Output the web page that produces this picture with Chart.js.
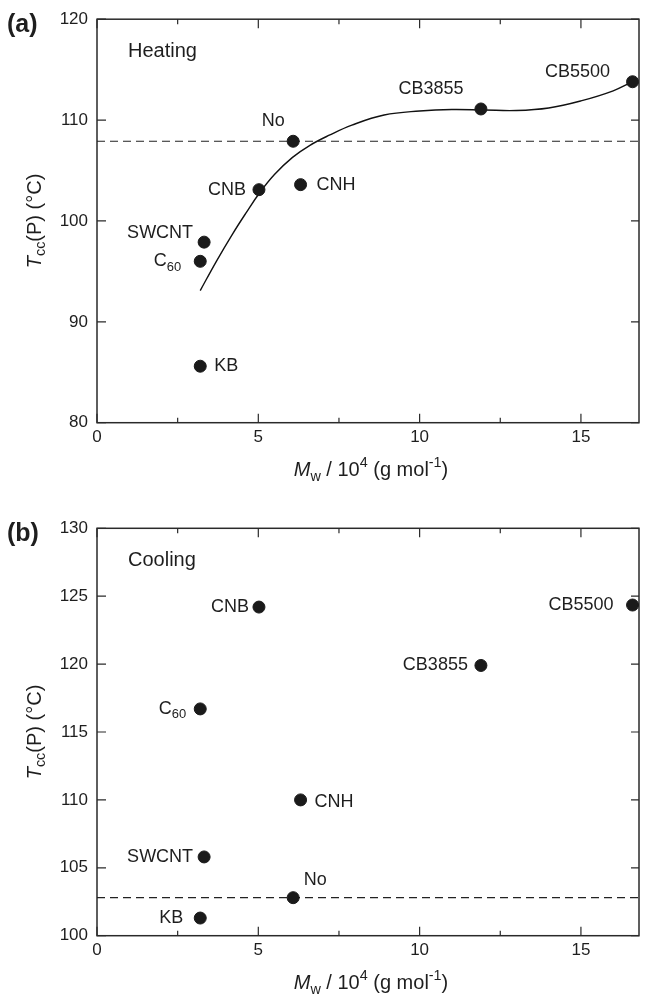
<!DOCTYPE html>
<html>
<head>
<meta charset="utf-8">
<script src="https://cdn.jsdelivr.net/npm/chart.js@4.4.0/dist/chart.umd.min.js"></script>
<style>
  html, body { margin: 0; padding: 0; background: #fff; }
  .panel { position: relative; width: 646px; }
  canvas { display: block; }
</style>
</head>
<body>
<div class="panel" style="height:500px"><canvas id="heating" width="646" height="500"></canvas></div>
<div class="panel" style="height:501px"><canvas id="cooling" width="646" height="501"></canvas></div>
<script>
// samples ("_" marks a subscript)
const sampleNames = ["No", "CNB", "CNH", "CB3855", "CB5500", "SWCNT", "C_60", "KB"];
const mwValues = [6.08, 5.02, 6.31, 11.9, 16.6, 3.32, 3.2, 3.2];
const heatingTcc = [107.9, 103.1, 103.6, 111.1, 113.8, 97.9, 96.0, 85.6];
const coolingTcc = [102.8, 124.2, 110.0, 119.9, 124.35, 105.8, 116.7, 101.3];

// fitted curve through the heating data
const fitMw = [3.2, 3.7, 4.2, 4.62, 5.02, 5.5, 6.06, 6.6, 7.2, 7.9, 8.9, 10.0, 11.0, 12.0, 13.0, 14.0, 15.0, 16.0, 16.6];
const fitHeating = [93.1, 96.0, 98.7, 100.8, 102.7, 104.6, 106.3, 107.5, 108.5, 109.5, 110.5, 110.9, 111.05, 111.0, 110.95, 111.2, 111.9, 112.9, 113.8];

const xTicks = [0, 5, 10, 15];
const xMinorTicks = [2.5, 7.5, 12.5];
const heatingYTicks = [80, 90, 100, 110, 120];
const coolingYTicks = [100, 105, 110, 115, 120, 125, 130];
const X_MAX = 16.8;

const FONT = '"Liberation Sans", Arial, Helvetica, sans-serif';
const INK = "#1e1e1e";

// label placement per sample: [dx, dy, align]
const heatingLabelPos = [[-20, -20, "center"], [-13, 0, "right"], [16, 0, "left"], [-50, -20, "center"],
  [-55, -10, "center"], [-11, -9, "right"], [-19, 0, "right"], [14, 0, "left"]];
const coolingLabelPos = [[22, -18, "center"], [-10, 0, "right"], [14, 2, "left"], [-13, 0, "right"],
  [-19, 0, "right"], [-11, 0, "right"], [-14, 0, "right"], [-17, 0, "right"]];

function parseLabel(name) {
  let i = name.indexOf("_");
  if (i < 0) return [{ t: name }];
  return [{ t: name.slice(0, i) }, { t: name.slice(i + 1), sub: true }];
}

function fontFor(p, size) {
  return (p.italic ? "italic " : "") + (p.bold ? "bold " : "") + ((p.sub || p.sup) ? size * 0.72 : size) + "px " + FONT;
}

function drawRich(ctx, parts, x, y, align, size) {
  let widths = parts.map(function (p) {
    ctx.font = fontFor(p, size);
    return ctx.measureText(p.t).width;
  });
  let total = widths.reduce((a, b) => a + b, 0);
  let cx = align === "center" ? x - total / 2 : align === "right" ? x - total : x;
  ctx.textBaseline = "middle";
  ctx.textAlign = "left";
  parts.forEach(function (p, i) {
    ctx.font = fontFor(p, size);
    let dy = p.sub ? size * 0.32 : p.sup ? -size * 0.36 : 0;
    ctx.fillText(p.t, cx, y + dy);
    cx += widths[i];
  });
}

const yTitle = [{ t: "T", italic: true }, { t: "cc", sub: true }, { t: "(P) (°C)" }];
const xTitle = [{ t: "M", italic: true }, { t: "w", sub: true }, { t: " / 10" }, { t: "4", sup: true },
  { t: " (g mol" }, { t: "-1", sup: true }, { t: ")" }];

const framePlugin = {
  id: "frame",
  beforeDatasetsDraw(chart) {
    const ctx = chart.ctx, a = chart.chartArea;
    const xs = chart.scales.x, ys = chart.scales.y;
    ctx.save();
    ctx.strokeStyle = "#2a2a2a";
    ctx.lineWidth = 1.5;
    ctx.strokeRect(a.left, a.top, a.right - a.left, a.bottom - a.top);
    ctx.lineWidth = 1.2;
    ctx.beginPath();
    xTicks.forEach(function (v) {
      let px = xs.getPixelForValue(v);
      ctx.moveTo(px, a.bottom); ctx.lineTo(px, a.bottom - 9);
      ctx.moveTo(px, a.top); ctx.lineTo(px, a.top + 9);
    });
    xMinorTicks.forEach(function (v) {
      let px = xs.getPixelForValue(v);
      ctx.moveTo(px, a.bottom); ctx.lineTo(px, a.bottom - 5);
      ctx.moveTo(px, a.top); ctx.lineTo(px, a.top + 5);
    });
    chart.options.yTickList.forEach(function (v) {
      let py = ys.getPixelForValue(v);
      ctx.moveTo(a.left, py); ctx.lineTo(a.left + 9, py);
      ctx.moveTo(a.right, py); ctx.lineTo(a.right - 8, py);
    });
    ctx.stroke();
    ctx.restore();
  },
  afterDraw(chart) {
    const ctx = chart.ctx, a = chart.chartArea, o = chart.options;
    const xs = chart.scales.x, ys = chart.scales.y;
    ctx.save();
    ctx.fillStyle = INK;
    // point labels
    o.pointLabels.forEach(function (pos, i) {
      let px = xs.getPixelForValue(mwValues[i]) + pos[0];
      let py = ys.getPixelForValue(o.pointValues[i]) + pos[1];
      drawRich(ctx, parseLabel(sampleNames[i]), px, py, pos[2], 18);
    });
    // condition label and panel tag
    drawRich(ctx, [{ t: o.condition }], a.left + 31, a.top + 32, "left", 20);
    drawRich(ctx, [{ t: o.tag, bold: true }], 7, a.top + 6, "left", 25);
    // axis titles
    drawRich(ctx, xTitle, (a.left + a.right) / 2 + 3, a.bottom + 48, "center", 20);
    ctx.translate(35, (a.top + a.bottom) / 2);
    ctx.rotate(-Math.PI / 2);
    drawRich(ctx, yTitle, 0, 0, "center", 20);
    ctx.restore();
  }
};

function makeChart(id, values, yTickList, condition, tag, labelPos, withFit, top, bottom) {
  const h = document.getElementById(id).height;
  const datasets = [{
    data: sampleNames.map((n, i) => ({ x: mwValues[i], y: values[i] })),
    backgroundColor: "#1a1a1a",
    borderColor: "#1a1a1a",
    pointRadius: 6,
    pointHoverRadius: 6,
    clip: false,
    order: 0
  }, {
    data: [{ x: 0, y: values[0] }, { x: X_MAX, y: values[0] }],
    showLine: true,
    borderColor: "#222",
    borderWidth: 1.2,
    borderDash: [8, 5],
    pointRadius: 0,
    order: 2
  }];
  if (withFit) {
    datasets.push({
      data: fitMw.map((x, i) => ({ x: x, y: fitHeating[i] })),
      showLine: true,
      borderColor: "#111",
      borderWidth: 1.4,
      pointRadius: 0,
      tension: 0.4,
      order: 1
    });
  }
  return new Chart(document.getElementById(id), {
    type: "scatter",
    data: { datasets: datasets },
    options: {
      responsive: false,
      animation: false,
      devicePixelRatio: 1,
      yTickList: yTickList,
      condition: condition,
      tag: tag,
      pointLabels: labelPos,
      pointValues: values,
      layout: { padding: { top: top, right: 4.5, left: 0, bottom: 0 } },
      plugins: { legend: { display: false }, tooltip: { enabled: false } },
      scales: {
        x: {
          type: "linear", min: 0, max: X_MAX,
          afterBuildTicks: s => { s.ticks = xTicks.map(v => ({ value: v })); },
          afterFit: s => { s.height = h - bottom; },
          grid: { display: false, drawTicks: false },
          border: { display: false },
          ticks: { font: { family: FONT, size: 17 }, color: INK, padding: 4, maxRotation: 0 }
        },
        y: {
          type: "linear", min: yTickList[0], max: yTickList[yTickList.length - 1],
          afterBuildTicks: s => { s.ticks = yTickList.map(v => ({ value: v })); },
          afterFit: s => { s.width = 97; },
          grid: { display: false, drawTicks: false },
          border: { display: false },
          ticks: { font: { family: FONT, size: 17 }, color: INK, padding: 9 }
        }
      }
    },
    plugins: [framePlugin]
  });
}

makeChart("heating", heatingTcc, heatingYTicks, "Heating", "(a)", heatingLabelPos, true, 15.7, 422.7);
makeChart("cooling", coolingTcc, coolingYTicks, "Cooling", "(b)", coolingLabelPos, false, 28.3, 435.7);
</script>
</body>
</html>
